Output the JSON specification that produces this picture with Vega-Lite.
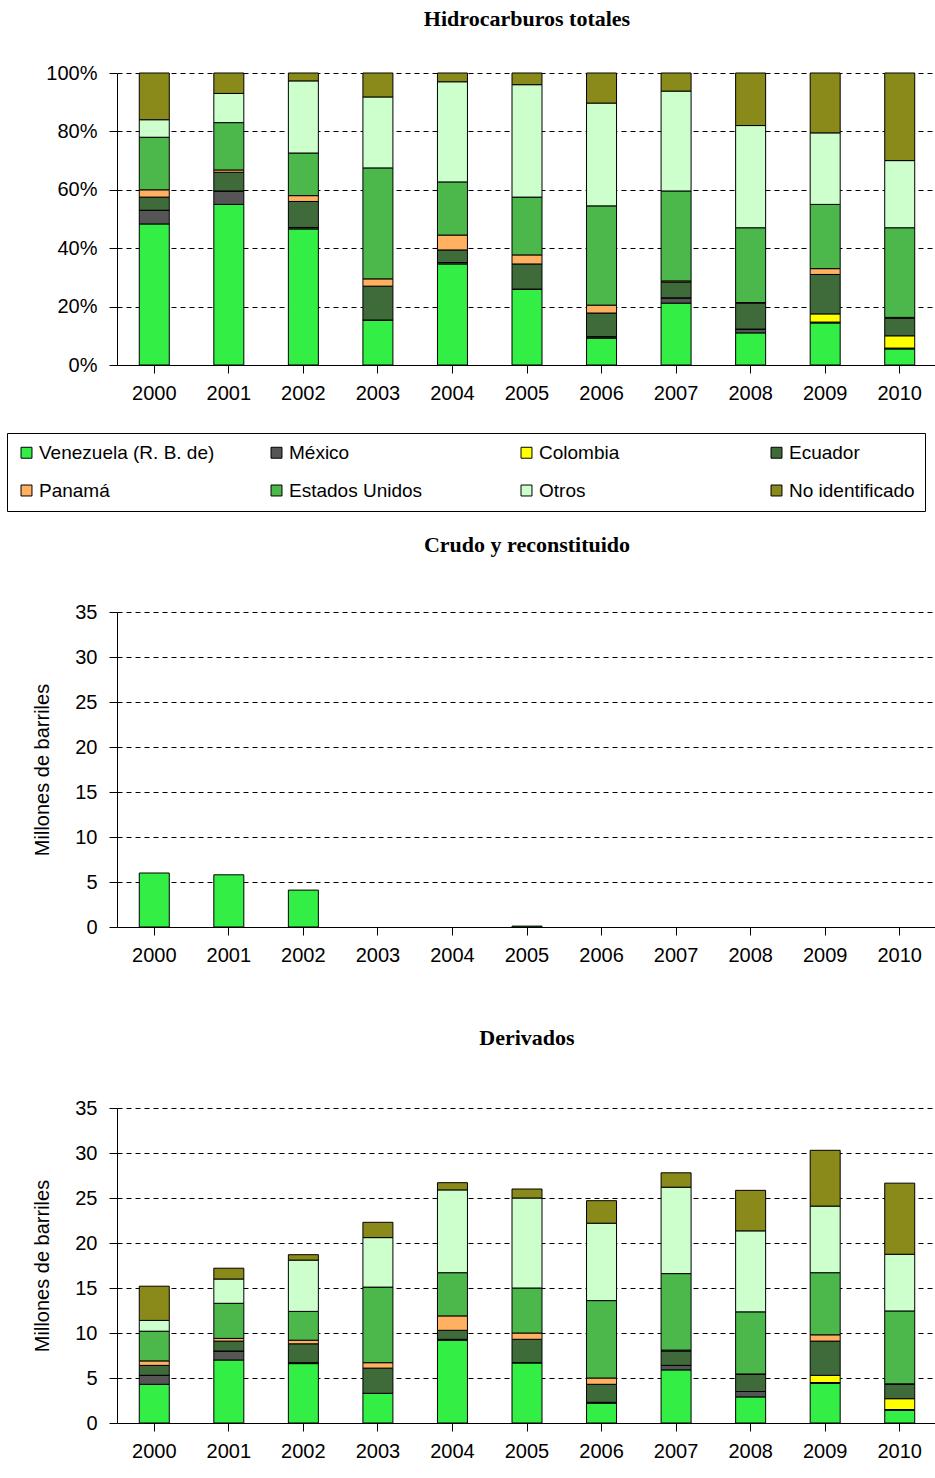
{
  "$schema": "https://vega.github.io/schema/vega-lite/v6.json",
  "background": "white",
  "padding": {"left": 6, "top": 8, "right": 0, "bottom": 0},
  "spacing": 22,
  "config": {
    "font": "Liberation Sans",
    "view": {"stroke": null},
    "title": {"font": "Liberation Serif", "fontSize": 22, "fontWeight": "bold", "color": "black"},
    "axis": {"labelFont": "Liberation Sans", "labelFontSize": 20, "labelColor": "black", "domainColor": "black", "tickColor": "black", "titleFont": "Liberation Sans", "titleFontSize": 20, "titleFontWeight": "normal", "titleColor": "black"},
    "axisX": {"labelAngle": 0, "grid": false, "tickSize": 8, "labelPadding": 10, "title": null},
    "axisY": {"gridColor": "black", "gridDash": [5, 4], "gridWidth": 1, "tickSize": 8, "labelPadding": 12, "titlePadding": 22},
    "bar": {"stroke": "black", "strokeWidth": 1}
  },
  "datasets": {
    "names": [
      {"s": 1, "c": "Venezuela (R. B. de)"}, {"s": 2, "c": "México"}, {"s": 3, "c": "Colombia"}, {"s": 4, "c": "Ecuador"},
      {"s": 5, "c": "Panamá"}, {"s": 6, "c": "Estados Unidos"}, {"s": 7, "c": "Otros"}, {"s": 8, "c": "No identificado"}
    ],
    "pct": [
      {"a":"2000","s":1,"v":48.3},{"a":"2000","s":2,"v":4.7},{"a":"2000","s":3,"v":0},{"a":"2000","s":4,"v":4.5},{"a":"2000","s":5,"v":2.5},{"a":"2000","s":6,"v":18},{"a":"2000","s":7,"v":6},{"a":"2000","s":8,"v":16},
      {"a":"2001","s":1,"v":55},{"a":"2001","s":2,"v":4.6},{"a":"2001","s":3,"v":0},{"a":"2001","s":4,"v":6.4},{"a":"2001","s":5,"v":0.8},{"a":"2001","s":6,"v":16.2},{"a":"2001","s":7,"v":10},{"a":"2001","s":8,"v":7},
      {"a":"2002","s":1,"v":46.6},{"a":"2002","s":2,"v":0.5},{"a":"2002","s":3,"v":0},{"a":"2002","s":4,"v":8.9},{"a":"2002","s":5,"v":2},{"a":"2002","s":6,"v":14.6},{"a":"2002","s":7,"v":24.7},{"a":"2002","s":8,"v":2.7},
      {"a":"2003","s":1,"v":15.4},{"a":"2003","s":2,"v":0},{"a":"2003","s":3,"v":0},{"a":"2003","s":4,"v":11.6},{"a":"2003","s":5,"v":2.5},{"a":"2003","s":6,"v":38},{"a":"2003","s":7,"v":24.3},{"a":"2003","s":8,"v":8.2},
      {"a":"2004","s":1,"v":34.6},{"a":"2004","s":2,"v":0.5},{"a":"2004","s":3,"v":0},{"a":"2004","s":4,"v":4.3},{"a":"2004","s":5,"v":5.1},{"a":"2004","s":6,"v":18.2},{"a":"2004","s":7,"v":34.3},{"a":"2004","s":8,"v":3},
      {"a":"2005","s":1,"v":26},{"a":"2005","s":2,"v":0},{"a":"2005","s":3,"v":0},{"a":"2005","s":4,"v":8.6},{"a":"2005","s":5,"v":3.1},{"a":"2005","s":6,"v":19.8},{"a":"2005","s":7,"v":38.5},{"a":"2005","s":8,"v":4},
      {"a":"2006","s":1,"v":9.2},{"a":"2006","s":2,"v":0.5},{"a":"2006","s":3,"v":0},{"a":"2006","s":4,"v":8.1},{"a":"2006","s":5,"v":2.7},{"a":"2006","s":6,"v":34},{"a":"2006","s":7,"v":35.2},{"a":"2006","s":8,"v":10.3},
      {"a":"2007","s":1,"v":21.2},{"a":"2007","s":2,"v":1.8},{"a":"2007","s":3,"v":0},{"a":"2007","s":4,"v":5.4},{"a":"2007","s":5,"v":0.4},{"a":"2007","s":6,"v":30.8},{"a":"2007","s":7,"v":34.2},{"a":"2007","s":8,"v":6.2},
      {"a":"2008","s":1,"v":11},{"a":"2008","s":2,"v":1.3},{"a":"2008","s":3,"v":0},{"a":"2008","s":4,"v":8.9},{"a":"2008","s":5,"v":0.2},{"a":"2008","s":6,"v":25.6},{"a":"2008","s":7,"v":35},{"a":"2008","s":8,"v":18},
      {"a":"2009","s":1,"v":14.4},{"a":"2009","s":2,"v":0.3},{"a":"2009","s":3,"v":2.8},{"a":"2009","s":4,"v":13.5},{"a":"2009","s":5,"v":2},{"a":"2009","s":6,"v":22},{"a":"2009","s":7,"v":24.5},{"a":"2009","s":8,"v":20.5},
      {"a":"2010","s":1,"v":5.5},{"a":"2010","s":2,"v":0.3},{"a":"2010","s":3,"v":4.2},{"a":"2010","s":4,"v":6},{"a":"2010","s":5,"v":0.3},{"a":"2010","s":6,"v":30.7},{"a":"2010","s":7,"v":23},{"a":"2010","s":8,"v":30}
    ],
    "crudo": [
      {"a":"2000","s":1,"v":6.0},{"a":"2001","s":1,"v":5.8},{"a":"2002","s":1,"v":4.1},{"a":"2005","s":1,"v":0.1}
    ],
    "deriv": [
      {"a":"2000","s":1,"v":4.3},{"a":"2000","s":2,"v":1.0},{"a":"2000","s":3,"v":0},{"a":"2000","s":4,"v":1.1},{"a":"2000","s":5,"v":0.5},{"a":"2000","s":6,"v":3.3},{"a":"2000","s":7,"v":1.2},{"a":"2000","s":8,"v":3.8},
      {"a":"2001","s":1,"v":7.0},{"a":"2001","s":2,"v":1.0},{"a":"2001","s":3,"v":0},{"a":"2001","s":4,"v":1.1},{"a":"2001","s":5,"v":0.3},{"a":"2001","s":6,"v":3.9},{"a":"2001","s":7,"v":2.7},{"a":"2001","s":8,"v":1.2},
      {"a":"2002","s":1,"v":6.6},{"a":"2002","s":2,"v":0.1},{"a":"2002","s":3,"v":0},{"a":"2002","s":4,"v":2.1},{"a":"2002","s":5,"v":0.4},{"a":"2002","s":6,"v":3.2},{"a":"2002","s":7,"v":5.7},{"a":"2002","s":8,"v":0.6},
      {"a":"2003","s":1,"v":3.3},{"a":"2003","s":2,"v":0},{"a":"2003","s":3,"v":0},{"a":"2003","s":4,"v":2.8},{"a":"2003","s":5,"v":0.6},{"a":"2003","s":6,"v":8.4},{"a":"2003","s":7,"v":5.5},{"a":"2003","s":8,"v":1.7},
      {"a":"2004","s":1,"v":9.2},{"a":"2004","s":2,"v":0.1},{"a":"2004","s":3,"v":0},{"a":"2004","s":4,"v":1.0},{"a":"2004","s":5,"v":1.6},{"a":"2004","s":6,"v":4.8},{"a":"2004","s":7,"v":9.2},{"a":"2004","s":8,"v":0.8},
      {"a":"2005","s":1,"v":6.7},{"a":"2005","s":2,"v":0},{"a":"2005","s":3,"v":0},{"a":"2005","s":4,"v":2.6},{"a":"2005","s":5,"v":0.7},{"a":"2005","s":6,"v":5.0},{"a":"2005","s":7,"v":10.0},{"a":"2005","s":8,"v":1.0},
      {"a":"2006","s":1,"v":2.2},{"a":"2006","s":2,"v":0.1},{"a":"2006","s":3,"v":0},{"a":"2006","s":4,"v":2.0},{"a":"2006","s":5,"v":0.7},{"a":"2006","s":6,"v":8.6},{"a":"2006","s":7,"v":8.6},{"a":"2006","s":8,"v":2.5},
      {"a":"2007","s":1,"v":5.9},{"a":"2007","s":2,"v":0.5},{"a":"2007","s":3,"v":0},{"a":"2007","s":4,"v":1.6},{"a":"2007","s":5,"v":0.1},{"a":"2007","s":6,"v":8.5},{"a":"2007","s":7,"v":9.6},{"a":"2007","s":8,"v":1.6},
      {"a":"2008","s":1,"v":2.9},{"a":"2008","s":2,"v":0.6},{"a":"2008","s":3,"v":0},{"a":"2008","s":4,"v":1.9},{"a":"2008","s":5,"v":0.05},{"a":"2008","s":6,"v":6.9},{"a":"2008","s":7,"v":9.0},{"a":"2008","s":8,"v":4.5},
      {"a":"2009","s":1,"v":4.4},{"a":"2009","s":2,"v":0.1},{"a":"2009","s":3,"v":0.8},{"a":"2009","s":4,"v":3.8},{"a":"2009","s":5,"v":0.7},{"a":"2009","s":6,"v":6.9},{"a":"2009","s":7,"v":7.4},{"a":"2009","s":8,"v":6.2},
      {"a":"2010","s":1,"v":1.4},{"a":"2010","s":2,"v":0.1},{"a":"2010","s":3,"v":1.2},{"a":"2010","s":4,"v":1.6},{"a":"2010","s":5,"v":0.05},{"a":"2010","s":6,"v":8.1},{"a":"2010","s":7,"v":6.3},{"a":"2010","s":8,"v":7.9}
    ]
  },
  "resolve": {"scale": {"color": "independent"}},
  "vconcat": [
    {
      "title": {"text": "Hidrocarburos totales", "offset": 32},
      "width": 820, "height": 292,
      "data": {"name": "pct"},
      "transform": [{"lookup": "s", "from": {"data": {"name": "names"}, "key": "s", "fields": ["c"]}}],
      "mark": {"type": "bar", "width": 30},
      "encoding": {
        "x": {"field": "a", "type": "nominal", "scale": {"paddingInner": 0.6, "paddingOuter": 0.3}},
        "y": {"field": "v", "type": "quantitative", "stack": "normalize", "title": null, "axis": {"format": "%", "values": [0, 0.2, 0.4, 0.6, 0.8, 1]}},
        "order": {"field": "s", "type": "quantitative"},
        "color": {"field": "c", "type": "nominal",
          "scale": {"domain": ["Venezuela (R. B. de)", "México", "Colombia", "Ecuador", "Panamá", "Estados Unidos", "Otros", "No identificado"],
                    "range": ["#33ee44", "#555555", "#ffff00", "#3f6a3a", "#ffb060", "#4cb84c", "#ccffcc", "#8a8a1a"]},
          "legend": {"orient": "none", "legendX": -110, "legendY": 360, "columns": 4, "gridAlign": "all", "title": null, "symbolType": "square", "symbolSize": 120, "symbolStrokeColor": "black", "symbolStrokeWidth": 1,
            "labelFont": "Liberation Sans", "labelFontSize": 19, "labelColor": "black", "labelLimit": 300, "labelOffset": 3, "columnPadding": 52, "rowPadding": 18,
            "padding": 10, "strokeColor": "black", "fillColor": "white", "direction": "horizontal"}
        }
      }
    },
    {
      "title": {"text": "Crudo y reconstituido", "offset": 45},
      "width": 820, "height": 315,
      "data": {"name": "crudo"},
      "mark": {"type": "bar", "width": 30},
      "encoding": {
        "x": {"field": "a", "type": "nominal", "title": " ", "axis": {"titleFontSize": 20, "titlePadding": 20},
          "scale": {"domain": ["2000","2001","2002","2003","2004","2005","2006","2007","2008","2009","2010"], "paddingInner": 0.6, "paddingOuter": 0.3}},
        "y": {"field": "v", "type": "quantitative", "stack": "zero", "title": "Millones de barriles", "scale": {"domain": [0, 35]}, "axis": {"values": [0, 5, 10, 15, 20, 25, 30, 35]}},
        "color": {"value": "#33ee44"}
      }
    },
    {
      "title": {"text": "Derivados", "offset": 48},
      "width": 820, "height": 315,
      "data": {"name": "deriv"},
      "transform": [{"lookup": "s", "from": {"data": {"name": "names"}, "key": "s", "fields": ["c"]}}],
      "mark": {"type": "bar", "width": 30},
      "encoding": {
        "x": {"field": "a", "type": "nominal", "scale": {"paddingInner": 0.6, "paddingOuter": 0.3}},
        "y": {"field": "v", "type": "quantitative", "stack": "zero", "title": "Millones de barriles", "scale": {"domain": [0, 35]}, "axis": {"values": [0, 5, 10, 15, 20, 25, 30, 35]}},
        "order": {"field": "s", "type": "quantitative"},
        "color": {"field": "c", "type": "nominal", "legend": null,
          "scale": {"domain": ["Venezuela (R. B. de)", "México", "Colombia", "Ecuador", "Panamá", "Estados Unidos", "Otros", "No identificado"],
                    "range": ["#33ee44", "#555555", "#ffff00", "#3f6a3a", "#ffb060", "#4cb84c", "#ccffcc", "#8a8a1a"]}}
      }
    }
  ]
}
